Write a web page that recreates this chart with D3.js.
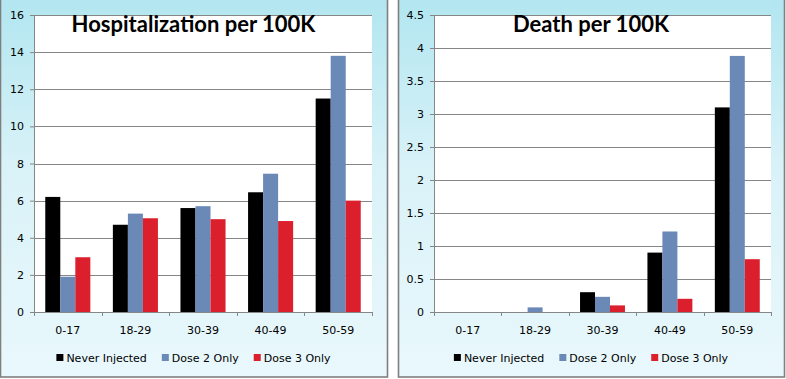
<!DOCTYPE html>
<html>
<head>
<meta charset="utf-8">
<script src="https://cdn.jsdelivr.net/npm/d3@7"></script>
<style>
  body { margin: 0; background: #ffffff; }
  svg text { font-family: "DejaVu Sans", Verdana, sans-serif; }
  .tick-label { font-size: 11px; fill: #000; }
  .chart-title { font-family: Lato, "Open Sans", sans-serif; font-weight: bold; font-size: 22px; fill: #000; }
</style>
</head>
<body>
<svg id="chart" width="786" height="379"></svg>
<script>
// age groups shared by both panels
const ageGroups = ['0-17', '18-29', '30-39', '40-49', '50-59'];
const seriesNames = ['Never Injected', 'Dose 2 Only', 'Dose 3 Only'];
const seriesColors = ['#000000', '#6a89b6', '#dc1f2d'];

// hospitalization per 100K
const hospNever = [6.2, 4.7, 5.6, 6.45, 11.5];
const hospDose2 = [1.9, 5.3, 5.7, 7.45, 13.8];
const hospDose3 = [2.95, 5.05, 5.0, 4.9, 6.0];
const hospTicks = [0, 2, 4, 6, 8, 10, 12, 14, 16];

// death per 100K
const deathNever = [0, 0, 0.3, 0.9, 3.1];
const deathDose2 = [0, 0.07, 0.23, 1.22, 3.88];
const deathDose3 = [0, 0, 0.1, 0.2, 0.8];
const deathTicks = [0, 0.5, 1, 1.5, 2, 2.5, 3, 3.5, 4, 4.5];

const svg = d3.select('#chart');

// panel background gradient
const defs = svg.append('defs');
const grad = defs.append('linearGradient')
  .attr('id', 'panelBg')
  .attr('x1', 0).attr('y1', 0).attr('x2', 0).attr('y2', 1);
grad.append('stop').attr('offset', '0%').attr('stop-color', '#b2e6f0');
grad.append('stop').attr('offset', '45%').attr('stop-color', '#d9f2f8');
grad.append('stop').attr('offset', '100%').attr('stop-color', '#e9f8fc');

function drawPanel(cfg) {
  const g = svg.append('g');

  // panel frame
  g.append('rect')
    .attr('x', cfg.x0 + 0.5)
    .attr('y', -1)
    .attr('width', cfg.x1 - cfg.x0)
    .attr('height', 378)
    .attr('fill', 'url(#panelBg)')
    .attr('stroke', '#7f7f7f')
    .attr('stroke-width', 1.6);

  const m = cfg.plot;
  const width = m.right - m.left;
  const height = m.bottom - m.top;

  const chart = g.append('g').attr('transform', `translate(${m.left},${m.top})`);

  chart.append('rect')
    .attr('width', width)
    .attr('height', height)
    .attr('fill', '#ffffff');

  const xScale = d3.scaleBand().domain(ageGroups).range([0, width]).paddingInner(0).paddingOuter(0);
  const yScale = d3.scaleLinear().domain([0, cfg.ticks[cfg.ticks.length - 1]]).range([height, 0]);
  // Excel style: gap width 150% of a single bar
  const barW = xScale.bandwidth() / (seriesNames.length + 1.5);
  const groupOffset = barW * 0.75;

  // gridlines
  chart.append('g')
    .selectAll('line')
    .data(cfg.ticks.filter(t => t > 0))
    .join('line')
    .attr('x1', 0)
    .attr('x2', width)
    .attr('y1', d => Math.round(yScale(d)) + 0.5)
    .attr('y2', d => Math.round(yScale(d)) + 0.5)
    .attr('stroke', '#868686')
    .attr('stroke-width', 1);

  // bars
  cfg.series.forEach((vals, si) => {
    chart.append('g')
      .attr('fill', seriesColors[si])
      .selectAll('rect')
      .data(vals.map((v, i) => ({ group: ageGroups[i], value: v })))
      .join('rect')
      .attr('x', d => xScale(d.group) + groupOffset + si * barW)
      .attr('width', barW)
      .attr('y', d => yScale(d.value))
      .attr('height', d => height - yScale(d.value));
  });

  // y axis
  const yAxis = d3.axisLeft(yScale).tickValues(cfg.ticks).tickSize(4).tickPadding(6)
    .tickFormat(d => String(d));
  const yAxisG = chart.append('g').call(yAxis);
  yAxisG.selectAll('path, line').attr('stroke', '#868686');
  yAxisG.select('.domain').attr('d', `M0.5,0V${height}`);
  yAxisG.selectAll('text').attr('class', 'tick-label').attr('font-family', null).attr('font-size', null);

  // x axis with ticks at category boundaries
  const xAxisG = chart.append('g').attr('transform', `translate(0,${height})`);
  xAxisG.append('line')
    .attr('x1', 0).attr('x2', width)
    .attr('y1', 0.5).attr('y2', 0.5)
    .attr('stroke', '#868686');
  const bounds = ageGroups.map(a => xScale(a)).concat([width]);
  xAxisG.selectAll('.xtick')
    .data(bounds)
    .join('line')
    .attr('class', 'xtick')
    .attr('x1', d => Math.round(d) + 0.5)
    .attr('x2', d => Math.round(d) + 0.5)
    .attr('y1', 0)
    .attr('y2', 4)
    .attr('stroke', '#868686');
  xAxisG.selectAll('.xlabel')
    .data(ageGroups)
    .join('text')
    .attr('class', 'tick-label')
    .attr('x', d => xScale(d) + xScale.bandwidth() / 2)
    .attr('y', 22)
    .attr('text-anchor', 'middle')
    .text(d => d);

  // title
  g.append('text')
    .attr('class', 'chart-title')
    .attr('x', (cfg.x0 + cfg.x1) / 2)
    .attr('y', 32)
    .attr('text-anchor', 'middle')
    .text(cfg.title);

  // legend, centred in panel
  const gap = 15;
  const legend = g.append('g');
  const items = legend.selectAll('g')
    .data(seriesNames)
    .join('g');
  items.append('rect')
    .attr('width', 7)
    .attr('height', 7)
    .attr('y', -7)
    .attr('fill', (d, i) => seriesColors[i]);
  items.append('text')
    .attr('class', 'tick-label')
    .attr('x', 10)
    .attr('y', 1)
    .text(d => d);
  let cursor = 0;
  items.each(function () {
    const w = 10 + d3.select(this).select('text').node().getComputedTextLength();
    d3.select(this).attr('transform', `translate(${cursor},0)`);
    cursor += w + gap;
  });
  const total = cursor - gap;
  legend.attr('transform', `translate(${(cfg.x0 + cfg.x1) / 2 - total / 2},361)`);
}

drawPanel({
  x0: 0, x1: 387,
  plot: { left: 34, right: 372, top: 15, bottom: 312 },
  title: 'Hospitalization per 100K',
  ticks: hospTicks,
  series: [hospNever, hospDose2, hospDose3]
});

drawPanel({
  x0: 398, x1: 784,
  plot: { left: 434, right: 771, top: 15, bottom: 312 },
  title: 'Death per 100K',
  ticks: deathTicks,
  series: [deathNever, deathDose2, deathDose3]
});
</script>
</body>
</html>
